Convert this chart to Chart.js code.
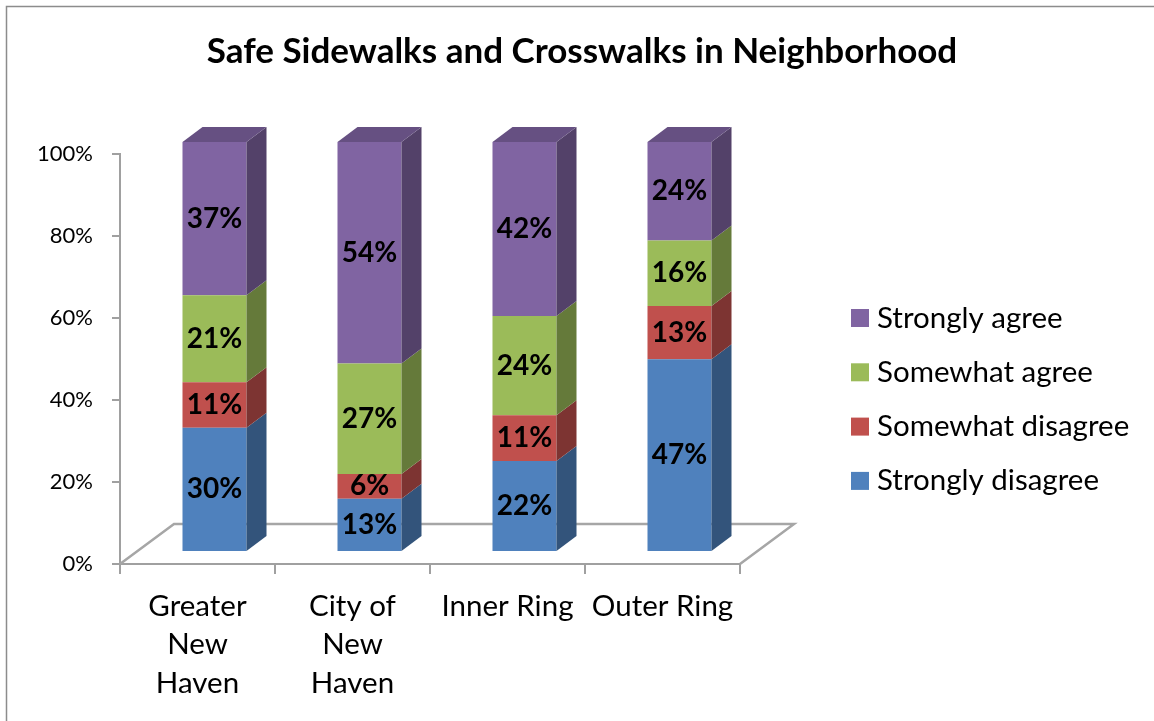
<!DOCTYPE html>
<html>
<head>
<meta charset="utf-8">
<title>Safe Sidewalks and Crosswalks in Neighborhood</title>
<script src="https://cdn.jsdelivr.net/npm/chart.js@4.4.1/dist/chart.umd.min.js"></script>
<style>
  html, body { margin: 0; padding: 0; background: #fff; }
  canvas { display: block; }
</style>
</head>
<body>
<canvas id="grafico" width="1154" height="721"></canvas>
<script>
// Survey answers per area (percent of respondents)
const regions = [['Greater', 'New', 'Haven'], ['City of', 'New', 'Haven'], 'Inner Ring', 'Outer Ring'];
const strongDisagree = [30, 13, 22, 47];
const someDisagree = [11, 6, 11, 13];
const someAgree = [21, 27, 24, 16];
const strongAgree = [37, 54, 42, 24];
const yTicks = [0, 20, 40, 60, 80, 100];

const FONT = 'Lato';

// 3D depth of each bar, of the floor, and how far the bar fronts sit behind the axis plane
const BAR_DX = 20, BAR_DY = 15;
const FLOOR_DX = 54, FLOOR_DY = 40;
const FRONT_DX = 17, FRONT_DY = 12;

// 100% stacked: each column is scaled to its own total
const totals = regions.map((_, i) => strongDisagree[i] + someDisagree[i] + someAgree[i] + strongAgree[i]);
const share = arr => arr.map((v, i) => v / totals[i] * 100);

function shade(hex, f) {
  const n = parseInt(hex.slice(1), 16);
  const r = Math.round(((n >> 16) & 255) * f);
  const g = Math.round(((n >> 8) & 255) * f);
  const b = Math.round((n & 255) * f);
  return `rgb(${r},${g},${b})`;
}

const efecto3d = {
  id: 'efecto3d',
  beforeDraw(chart) {
    const ctx = chart.ctx;
    ctx.save();
    ctx.strokeStyle = '#8c8c8c';
    ctx.lineWidth = 1.5;
    ctx.beginPath();
    ctx.moveTo(6.5, chart.height);
    ctx.lineTo(6.5, 6.5);
    ctx.lineTo(chart.width, 6.5);
    ctx.stroke();
    ctx.restore();
  },
  beforeDatasetsDraw(chart) {
    const { ctx, chartArea: a } = chart;
    // floor outline
    ctx.save();
    ctx.strokeStyle = '#a6a6a6';
    ctx.lineWidth = 2.5;
    ctx.beginPath();
    ctx.moveTo(a.left, a.bottom);
    ctx.lineTo(a.left + FLOOR_DX, a.bottom - FLOOR_DY);
    ctx.lineTo(a.right + FLOOR_DX, a.bottom - FLOOR_DY);
    ctx.lineTo(a.right, a.bottom);
    ctx.stroke();
    ctx.restore();
    // bars are pushed back into the floor
    ctx.save();
    ctx.translate(FRONT_DX, -FRONT_DY);
  },
  afterDatasetsDraw(chart) {
    const ctx = chart.ctx;
    const sets = chart.data.datasets;
    sets.forEach((ds, di) => {
      const meta = chart.getDatasetMeta(di);
      meta.data.forEach(bar => {
        const { x, y, base, width } = bar.getProps(['x', 'y', 'base', 'width'], true);
        const left = x - width / 2, right = x + width / 2;
        ctx.fillStyle = shade(ds.backgroundColor, 0.65);
        ctx.beginPath();
        ctx.moveTo(right, y);
        ctx.lineTo(right + BAR_DX, y - BAR_DY);
        ctx.lineTo(right + BAR_DX, base - BAR_DY);
        ctx.lineTo(right, base);
        ctx.closePath();
        ctx.fill();
        if (di === sets.length - 1) {
          ctx.fillStyle = shade(ds.backgroundColor, 0.8);
          ctx.beginPath();
          ctx.moveTo(left, y);
          ctx.lineTo(left + BAR_DX, y - BAR_DY);
          ctx.lineTo(right + BAR_DX, y - BAR_DY);
          ctx.lineTo(right, y);
          ctx.closePath();
          ctx.fill();
        }
      });
    });
    // value labels on the front faces
    ctx.fillStyle = '#000';
    ctx.font = `bold 28px ${FONT}`;
    ctx.textAlign = 'center';
    ctx.textBaseline = 'middle';
    sets.forEach((ds, di) => {
      chart.getDatasetMeta(di).data.forEach((bar, i) => {
        const { x, y, base } = bar.getProps(['x', 'y', 'base'], true);
        ctx.fillText(ds.valores[i] + '%', x, (y + base) / 2);
      });
    });
    ctx.restore();
  },
  afterDraw(chart) {
    // legend, top to bottom in reverse stacking order
    const ctx = chart.ctx;
    const sets = chart.data.datasets.slice().reverse();
    ctx.save();
    ctx.font = `29.5px ${FONT}`;
    ctx.textAlign = 'left';
    ctx.textBaseline = 'middle';
    sets.forEach((ds, k) => {
      const cy = 318 + k * 54.3;
      ctx.fillStyle = ds.backgroundColor;
      ctx.fillRect(851, cy - 9, 18, 18);
      ctx.fillStyle = '#000';
      ctx.fillText(ds.label, 877, cy);
    });
    ctx.restore();
  }
};

const ctx = document.getElementById('grafico').getContext('2d');
const chart = new Chart(ctx, {
  type: 'bar',
  data: {
    labels: regions,
    datasets: [
      { label: 'Strongly disagree', data: share(strongDisagree), valores: strongDisagree, backgroundColor: '#4F81BD' },
      { label: 'Somewhat disagree', data: share(someDisagree), valores: someDisagree, backgroundColor: '#C0504D' },
      { label: 'Somewhat agree', data: share(someAgree), valores: someAgree, backgroundColor: '#9BBB59' },
      { label: 'Strongly agree', data: share(strongAgree), valores: strongAgree, backgroundColor: '#8064A2' }
    ]
  },
  options: {
    responsive: false,
    animation: false,
    layout: { padding: { top: 0, left: 10, right: 0, bottom: 0 } },
    datasets: {
      bar: { barPercentage: 0.413, categoryPercentage: 1, borderWidth: 0, clip: false }
    },
    plugins: {
      legend: { display: false },
      tooltip: { enabled: false },
      title: {
        display: true,
        text: 'Safe Sidewalks and Crosswalks in Neighborhood',
        color: '#000',
        font: { family: FONT, size: 35, weight: 'bold', lineHeight: 1.2 },
        padding: { top: 31, bottom: 81 }
      }
    },
    scales: {
      x: {
        stacked: true,
        grid: { display: true, drawOnChartArea: false, drawTicks: true, tickLength: 10, color: '#a0a0a0', lineWidth: 2 },
        border: { display: true, color: '#a0a0a0', width: 2 },
        ticks: { color: '#000', font: { family: FONT, size: 29.5, lineHeight: 1.305 }, padding: 13, maxRotation: 0, autoSkip: false },
        afterFit(s) { s.height = 157; }
      },
      y: {
        stacked: true,
        min: 0,
        max: 100,
        grid: { drawOnChartArea: false, tickLength: 8, color: '#a0a0a0', lineWidth: 2 },
        border: { color: '#a0a0a0', width: 2 },
        ticks: { color: '#000', font: { family: FONT, size: 22 }, padding: 19, callback: v => v + '%' },
        afterBuildTicks(s) { s.ticks = yTicks.map(v => ({ value: v })); },
        afterFit(s) { s.width = 110; }
      },
      // empty column on the right keeps room for the legend
      derecha: {
        type: 'linear',
        position: 'right',
        display: true,
        grid: { display: false },
        ticks: { display: false },
        border: { display: false },
        afterFit(s) { s.width = 414; }
      }
    }
  },
  plugins: [efecto3d]
});
</script>
</body>
</html>
